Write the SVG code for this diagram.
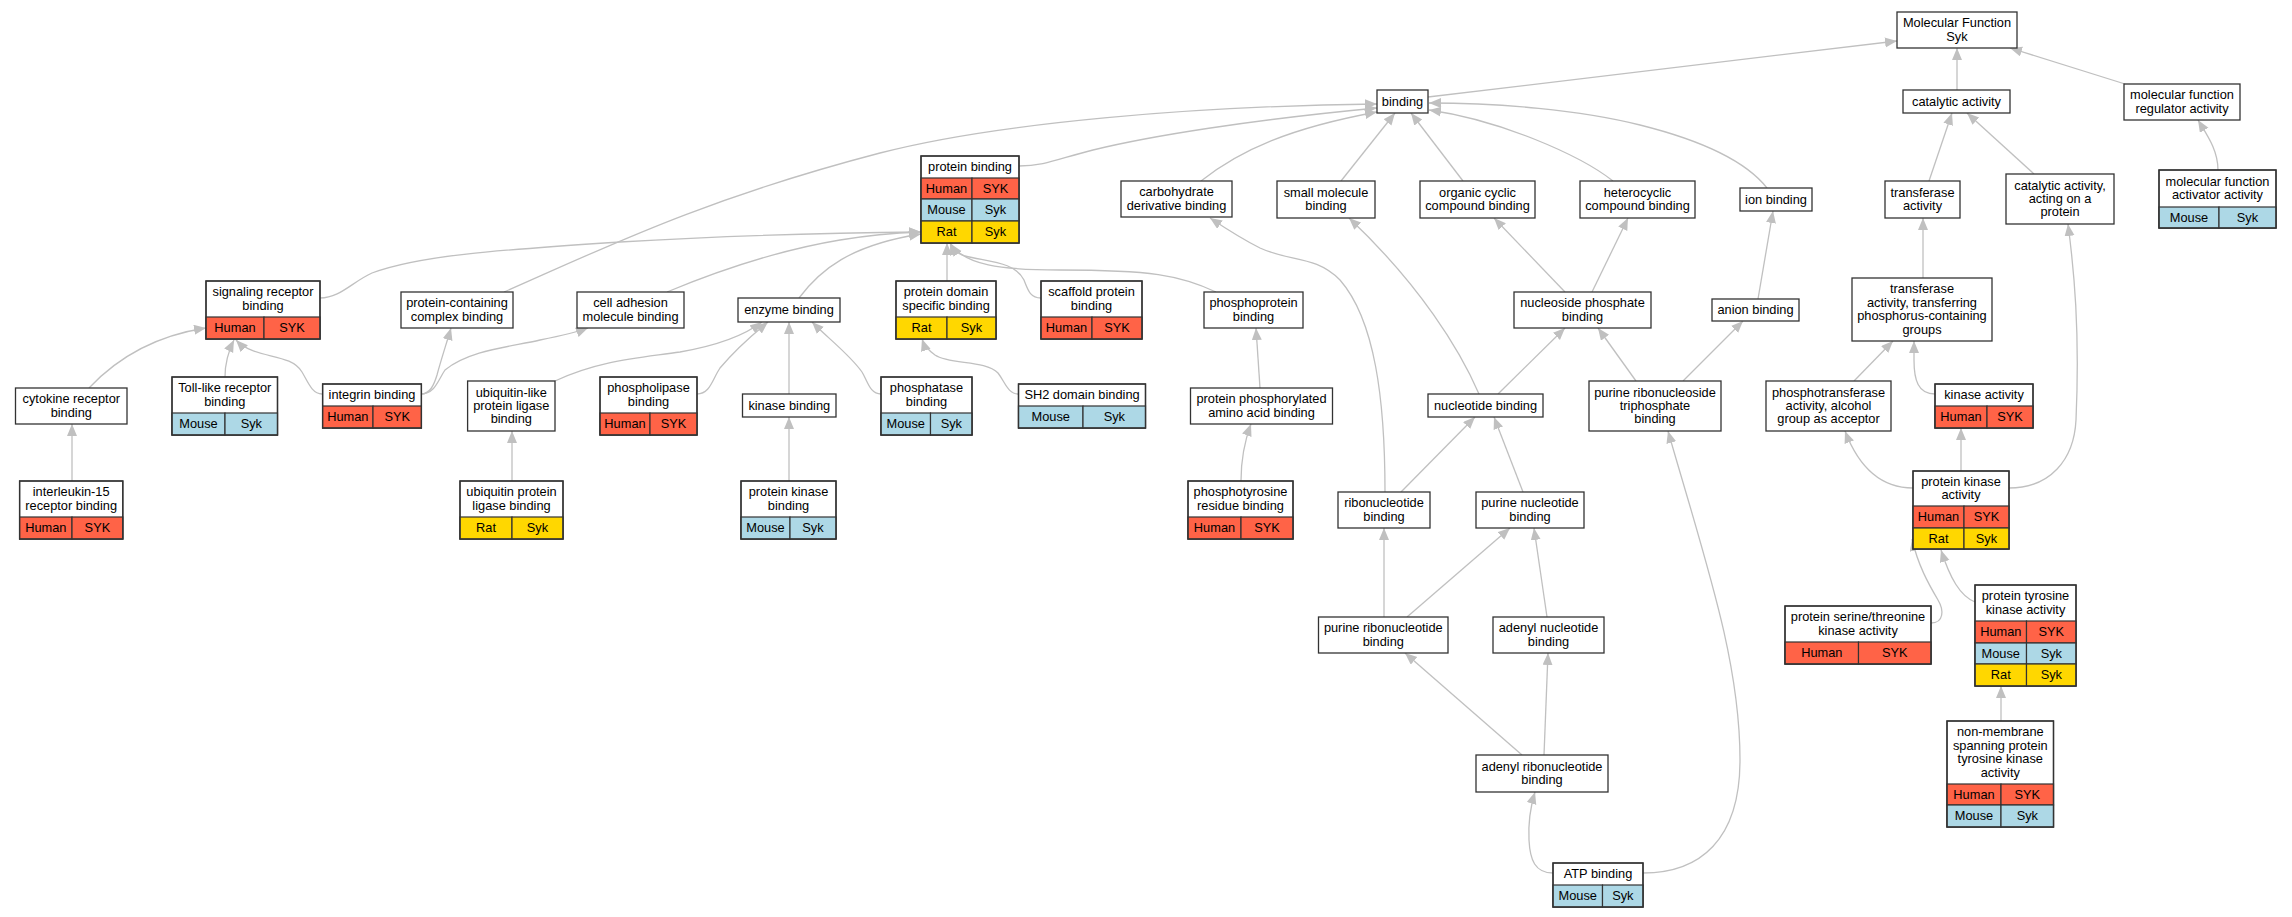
<svg xmlns="http://www.w3.org/2000/svg" width="2292" height="917" viewBox="0 0 2292 917">
<style>
.b{fill:#fff;stroke:#333;stroke-width:1.3}
.o{fill:none;stroke:#333;stroke-width:1.3}
.hu{fill:#ff6347;stroke:#333;stroke-width:1.2}
.mo{fill:#add8e6;stroke:#333;stroke-width:1.2}
.ra{fill:#ffd700;stroke:#333;stroke-width:1.2}
text{font-family:"Liberation Sans",Arial,sans-serif;font-size:12.8px;text-anchor:middle;fill:#000}
.e{fill:none;stroke:#c0c0c0;stroke-width:1.3;marker-end:url(#ah)}
</style>
<defs>
<marker id="ah" markerUnits="userSpaceOnUse" markerWidth="13" markerHeight="11" refX="12" refY="5" orient="auto" viewBox="0 0 13 11"><path d="M0,0 L12,5 L0,10 z" fill="#c0c0c0"/></marker>
</defs>
<rect width="2292" height="917" fill="#fff"/>
<g id="edges">
<path class="e" d="M1428,97 L1897,41"/>
<path class="e" d="M1957,90 L1957,48"/>
<path class="e" d="M2125,84 L2010,48"/>
<path class="e" d="M1929,181 L1952,113"/>
<path class="e" d="M2034,174 L1967,113"/>
<path class="e" d="M2218,170 C2218,150 2207,135 2198,120"/>
<path class="e" d="M1923,278 L1923,218"/>
<path class="e" d="M1854,381 L1893,341"/>
<path class="e" d="M1935,394 C1918,394 1914,380 1914,360 L1914,341"/>
<path class="e" d="M1961,471 L1961,428"/>
<path class="e" d="M1913,488 C1880,488 1858,465 1845,431"/>
<path class="e" d="M2009,488 C2050,488 2074,460 2076,420 C2080,330 2074,270 2068,224"/>
<path class="e" d="M1931,623 C1944,623 1944,610 1938,600 C1928,583 1918,565 1912,539"/>
<path class="e" d="M1975,602 C1960,596 1950,578 1941,550"/>
<path class="e" d="M2001,721 L2001,686"/>
<path class="e" d="M1019,166 C1045,166 1060,158 1093,150 C1150,136 1250,120 1377,108"/>
<path class="e" d="M504,292 C600,250 700,200 880,153 C1000,122 1200,106 1377,104"/>
<path class="e" d="M1201,181 C1240,150 1290,128 1377,112"/>
<path class="e" d="M1341,181 L1395,113"/>
<path class="e" d="M1463,181 L1411,113"/>
<path class="e" d="M1613,181 C1580,155 1500,120 1429,110"/>
<path class="e" d="M1767,188 C1745,160 1700,140 1640,125 C1580,110 1500,103 1429,103"/>
<path class="e" d="M320,298 C340,298 352,282 372,273 C420,255 500,250 620,242 C720,236 820,233 921,232"/>
<path class="e" d="M667,292 C720,270 780,250 840,240 C870,235 895,233 921,232"/>
<path class="e" d="M799,298 C820,270 850,245 921,234"/>
<path class="e" d="M421,394 C435,394 438,380 445,370 C470,350 510,347 540,340 C560,336 575,333 588,328"/>
<path class="e" d="M421,394 C430,394 434,385 437,375 C441,360 446,345 451,328"/>
<path class="e" d="M322,394 C312,394 308,382 302,372 C290,352 255,360 236,340"/>
<path class="e" d="M225,377 C225,365 228,352 234,340"/>
<path class="e" d="M89,388 C120,355 160,335 206,328"/>
<path class="e" d="M72,481 L72,424"/>
<path class="e" d="M512,481 L512,431"/>
<path class="e" d="M555,381 C600,360 640,358 680,352 C720,345 745,335 762,322"/>
<path class="e" d="M697,394 C710,394 712,380 720,368 C735,350 752,335 768,322"/>
<path class="e" d="M789,394 L789,322"/>
<path class="e" d="M881,394 C870,394 868,382 862,372 C850,355 830,340 812,322"/>
<path class="e" d="M789,481 L789,417"/>
<path class="e" d="M947,281 L947,243"/>
<path class="e" d="M1041,298 C1030,298 1028,290 1024,280 C1015,262 990,262 965,256 C958,254 953,250 950,243"/>
<path class="e" d="M1216,292 C1180,275 1150,270 1060,270 C1000,270 965,265 951,244"/>
<path class="e" d="M1018,394 C1008,394 1005,382 998,373 C985,360 950,365 935,355 C928,350 924,345 922,339"/>
<path class="e" d="M1260,388 L1256,328"/>
<path class="e" d="M1241,481 C1241,460 1245,440 1251,424"/>
<path class="e" d="M1565,292 L1494,218"/>
<path class="e" d="M1592,292 L1628,218"/>
<path class="e" d="M1498,394 L1565,328"/>
<path class="e" d="M1479,394 C1460,350 1420,285 1349,218"/>
<path class="e" d="M1636,381 L1598,328"/>
<path class="e" d="M1683,381 L1743,321"/>
<path class="e" d="M1758,299 L1773,211"/>
<path class="e" d="M1401,492 L1475,417"/>
<path class="e" d="M1385,492 C1385,400 1375,320 1340,280 C1315,255 1290,262 1260,248 C1240,238 1225,228 1210,218"/>
<path class="e" d="M1523,492 L1494,417"/>
<path class="e" d="M1384,617 L1384,528"/>
<path class="e" d="M1407,617 L1510,528"/>
<path class="e" d="M1547,617 L1534,528"/>
<path class="e" d="M1522,755 L1405,653"/>
<path class="e" d="M1544,755 L1548,653"/>
<path class="e" d="M1553,873 C1535,873 1530,860 1529,840 C1528,820 1531,805 1535,792"/>
<path class="e" d="M1643,873 C1700,873 1740,840 1740,760 C1740,660 1705,560 1668,431"/>
</g>
<g id="n_mf"><rect class="b" x="1897" y="12" width="120" height="36"/><text x="1957" y="27.3">Molecular Function</text><text x="1957" y="40.7">Syk</text></g>
<g id="n_binding"><rect class="b" x="1377" y="90" width="51" height="23"/><text x="1402.5" y="105.5">binding</text></g>
<g id="n_catalytic"><rect class="b" x="1903" y="90" width="107" height="23"/><text x="1956.5" y="105.5">catalytic activity</text></g>
<g id="n_mfreg"><rect class="b" x="2124" y="84" width="116" height="36"/><text x="2182" y="99.3">molecular function</text><text x="2182" y="112.7">regulator activity</text></g>
<g id="n_proteinbinding"><rect class="b" x="921" y="156" width="98" height="87"/><text x="970" y="171">protein binding</text>
<rect class="hu" x="921" y="178" width="51" height="21"/><rect class="hu" x="972" y="178" width="47" height="21"/><text x="946.5" y="192.5">Human</text><text x="995.5" y="192.5">SYK</text>
<rect class="mo" x="921" y="199" width="51" height="22"/><rect class="mo" x="972" y="199" width="47" height="22"/><text x="946.5" y="214">Mouse</text><text x="995.5" y="214">Syk</text>
<rect class="ra" x="921" y="221" width="51" height="22"/><rect class="ra" x="972" y="221" width="47" height="22"/><text x="946.5" y="236">Rat</text><text x="995.5" y="236">Syk</text>
<rect class="o" x="921" y="156" width="98" height="87"/></g>
<g id="n_carbohydrate"><rect class="b" x="1121" y="181" width="111" height="36"/><text x="1176.5" y="196.3">carbohydrate</text><text x="1176.5" y="209.7">derivative binding</text></g>
<g id="n_smallmol"><rect class="b" x="1277" y="181" width="98" height="37"/><text x="1326" y="196.8">small molecule</text><text x="1326" y="210.2">binding</text></g>
<g id="n_organic"><rect class="b" x="1420" y="181" width="115" height="37"/><text x="1477.5" y="196.8">organic cyclic</text><text x="1477.5" y="210.2">compound binding</text></g>
<g id="n_heterocyclic"><rect class="b" x="1580" y="181" width="115" height="37"/><text x="1637.5" y="196.8">heterocyclic</text><text x="1637.5" y="210.2">compound binding</text></g>
<g id="n_ion"><rect class="b" x="1740" y="188" width="72" height="23"/><text x="1776" y="203.5">ion binding</text></g>
<g id="n_transferase"><rect class="b" x="1885" y="181" width="75" height="37"/><text x="1922.5" y="196.8">transferase</text><text x="1922.5" y="210.2">activity</text></g>
<g id="n_acting"><rect class="b" x="2006" y="174" width="108" height="50"/><text x="2060" y="189.6">catalytic activity,</text><text x="2060" y="203">acting on a</text><text x="2060" y="216.4">protein</text></g>
<g id="n_activator"><rect class="b" x="2159" y="170" width="117" height="58"/><text x="2217.5" y="185.8">molecular function</text><text x="2217.5" y="199.2">activator activity</text>
<rect class="mo" x="2159" y="207" width="60" height="21"/><rect class="mo" x="2219" y="207" width="57" height="21"/><text x="2189" y="221.5">Mouse</text><text x="2247.5" y="221.5">Syk</text>
<rect class="o" x="2159" y="170" width="117" height="58"/></g>
<g id="n_signaling"><rect class="b" x="206" y="281" width="114" height="58"/><text x="263" y="296.3">signaling receptor</text><text x="263" y="309.7">binding</text>
<rect class="hu" x="206" y="317" width="58" height="22"/><rect class="hu" x="264" y="317" width="56" height="22"/><text x="235" y="332">Human</text><text x="292" y="332">SYK</text>
<rect class="o" x="206" y="281" width="114" height="58"/></g>
<g id="n_complex"><rect class="b" x="401" y="292" width="112" height="36"/><text x="457" y="307.3">protein-containing</text><text x="457" y="320.7">complex binding</text></g>
<g id="n_celladhesion"><rect class="b" x="577" y="292" width="107" height="36"/><text x="630.5" y="307.3">cell adhesion</text><text x="630.5" y="320.7">molecule binding</text></g>
<g id="n_enzyme"><rect class="b" x="738" y="298" width="102" height="24"/><text x="789" y="314">enzyme binding</text></g>
<g id="n_domain"><rect class="b" x="896" y="281" width="100" height="58"/><text x="946" y="296.3">protein domain</text><text x="946" y="309.7">specific binding</text>
<rect class="ra" x="896" y="317" width="51" height="22"/><rect class="ra" x="947" y="317" width="49" height="22"/><text x="921.5" y="332">Rat</text><text x="971.5" y="332">Syk</text>
<rect class="o" x="896" y="281" width="100" height="58"/></g>
<g id="n_scaffold"><rect class="b" x="1041" y="281" width="101" height="58"/><text x="1091.5" y="296.3">scaffold protein</text><text x="1091.5" y="309.7">binding</text>
<rect class="hu" x="1041" y="317" width="51" height="22"/><rect class="hu" x="1092" y="317" width="50" height="22"/><text x="1066.5" y="332">Human</text><text x="1117" y="332">SYK</text>
<rect class="o" x="1041" y="281" width="101" height="58"/></g>
<g id="n_phosphoprotein"><rect class="b" x="1204" y="292" width="99" height="36"/><text x="1253.5" y="307.3">phosphoprotein</text><text x="1253.5" y="320.7">binding</text></g>
<g id="n_nucleoside"><rect class="b" x="1514" y="292" width="137" height="36"/><text x="1582.5" y="307.3">nucleoside phosphate</text><text x="1582.5" y="320.7">binding</text></g>
<g id="n_anion"><rect class="b" x="1712" y="299" width="87" height="22"/><text x="1755.5" y="314">anion binding</text></g>
<g id="n_transferring"><rect class="b" x="1852" y="278" width="140" height="63"/><text x="1922" y="293.4">transferase</text><text x="1922" y="306.8">activity, transferring</text><text x="1922" y="320.2">phosphorus-containing</text><text x="1922" y="333.6">groups</text></g>
<g id="n_cytokine"><rect class="b" x="15.5" y="388" width="111.5" height="36"/><text x="71.3" y="403.3">cytokine receptor</text><text x="71.3" y="416.7">binding</text></g>
<g id="n_toll"><rect class="b" x="172" y="377" width="105.5" height="58"/><text x="224.8" y="392.3">Toll-like receptor</text><text x="224.8" y="405.7">binding</text>
<rect class="mo" x="172" y="413" width="53" height="22"/><rect class="mo" x="225" y="413" width="52.5" height="22"/><text x="198.5" y="428">Mouse</text><text x="251.3" y="428">Syk</text>
<rect class="o" x="172" y="377" width="105.5" height="58"/></g>
<g id="n_integrin"><rect class="b" x="322.6" y="384" width="98.8" height="44"/><text x="372" y="399">integrin binding</text>
<rect class="hu" x="322.6" y="406" width="50.4" height="22"/><rect class="hu" x="373" y="406" width="48.4" height="22"/><text x="347.8" y="421">Human</text><text x="397.2" y="421">SYK</text>
<rect class="o" x="322.6" y="384" width="98.8" height="44"/></g>
<g id="n_ubiqlike"><rect class="b" x="467.6" y="381" width="87.4" height="50"/><text x="511.3" y="396.6">ubiquitin-like</text><text x="511.3" y="410">protein ligase</text><text x="511.3" y="423.4">binding</text></g>
<g id="n_phospholipase"><rect class="b" x="600" y="377" width="97" height="58"/><text x="648.5" y="392.3">phospholipase</text><text x="648.5" y="405.7">binding</text>
<rect class="hu" x="600" y="413" width="50" height="22"/><rect class="hu" x="650" y="413" width="47" height="22"/><text x="625" y="428">Human</text><text x="673.5" y="428">SYK</text>
<rect class="o" x="600" y="377" width="97" height="58"/></g>
<g id="n_kinasebinding"><rect class="b" x="742.5" y="394" width="93.5" height="23"/><text x="789.3" y="409.5">kinase binding</text></g>
<g id="n_phosphatase"><rect class="b" x="881" y="377" width="91" height="58"/><text x="926.5" y="392.3">phosphatase</text><text x="926.5" y="405.7">binding</text>
<rect class="mo" x="881" y="413" width="49.5" height="22"/><rect class="mo" x="930.5" y="413" width="41.5" height="22"/><text x="905.8" y="428">Mouse</text><text x="951.3" y="428">Syk</text>
<rect class="o" x="881" y="377" width="91" height="58"/></g>
<g id="n_sh2"><rect class="b" x="1018.5" y="384" width="127" height="44"/><text x="1082" y="399">SH2 domain binding</text>
<rect class="mo" x="1018.5" y="406" width="64.5" height="22"/><rect class="mo" x="1083" y="406" width="62.5" height="22"/><text x="1050.8" y="421">Mouse</text><text x="1114.3" y="421">Syk</text>
<rect class="o" x="1018.5" y="384" width="127" height="44"/></g>
<g id="n_phosphorylated"><rect class="b" x="1190.5" y="388" width="142" height="36"/><text x="1261.5" y="403.3">protein phosphorylated</text><text x="1261.5" y="416.7">amino acid binding</text></g>
<g id="n_nucleotide"><rect class="b" x="1428" y="394" width="115" height="23"/><text x="1485.5" y="409.5">nucleotide binding</text></g>
<g id="n_triphosphate"><rect class="b" x="1589" y="381" width="132" height="50"/><text x="1655" y="396.6">purine ribonucleoside</text><text x="1655" y="410">triphosphate</text><text x="1655" y="423.4">binding</text></g>
<g id="n_phosphotransferase"><rect class="b" x="1766" y="381" width="125" height="50"/><text x="1828.5" y="396.6">phosphotransferase</text><text x="1828.5" y="410">activity, alcohol</text><text x="1828.5" y="423.4">group as acceptor</text></g>
<g id="n_kinaseactivity"><rect class="b" x="1935" y="384" width="98" height="44"/><text x="1984" y="399">kinase activity</text>
<rect class="hu" x="1935" y="406" width="52" height="22"/><rect class="hu" x="1987" y="406" width="46" height="22"/><text x="1961" y="421">Human</text><text x="2010" y="421">SYK</text>
<rect class="o" x="1935" y="384" width="98" height="44"/></g>
<g id="n_il15"><rect class="b" x="19.6" y="481" width="103.2" height="58"/><text x="71.2" y="496.3">interleukin-15</text><text x="71.2" y="509.7">receptor binding</text>
<rect class="hu" x="19.6" y="517" width="52.4" height="22"/><rect class="hu" x="72" y="517" width="50.8" height="22"/><text x="45.8" y="532">Human</text><text x="97.4" y="532">SYK</text>
<rect class="o" x="19.6" y="481" width="103.2" height="58"/></g>
<g id="n_ubiqligase"><rect class="b" x="460" y="481" width="103" height="58"/><text x="511.5" y="496.3">ubiquitin protein</text><text x="511.5" y="509.7">ligase binding</text>
<rect class="ra" x="460" y="517" width="52" height="22"/><rect class="ra" x="512" y="517" width="51" height="22"/><text x="486" y="532">Rat</text><text x="537.5" y="532">Syk</text>
<rect class="o" x="460" y="481" width="103" height="58"/></g>
<g id="n_pkbinding"><rect class="b" x="741" y="481" width="95" height="58"/><text x="788.5" y="496.3">protein kinase</text><text x="788.5" y="509.7">binding</text>
<rect class="mo" x="741" y="517" width="49" height="22"/><rect class="mo" x="790" y="517" width="46" height="22"/><text x="765.5" y="532">Mouse</text><text x="813" y="532">Syk</text>
<rect class="o" x="741" y="481" width="95" height="58"/></g>
<g id="n_phosphotyrosine"><rect class="b" x="1188" y="481" width="105" height="58"/><text x="1240.5" y="496.3">phosphotyrosine</text><text x="1240.5" y="509.7">residue binding</text>
<rect class="hu" x="1188" y="517" width="53" height="22"/><rect class="hu" x="1241" y="517" width="52" height="22"/><text x="1214.5" y="532">Human</text><text x="1267" y="532">SYK</text>
<rect class="o" x="1188" y="481" width="105" height="58"/></g>
<g id="n_pkactivity"><rect class="b" x="1913" y="471" width="96" height="78"/><text x="1961" y="485.8">protein kinase</text><text x="1961" y="499.2">activity</text>
<rect class="hu" x="1913" y="506" width="51" height="22"/><rect class="hu" x="1964" y="506" width="45" height="22"/><text x="1938.5" y="521">Human</text><text x="1986.5" y="521">SYK</text>
<rect class="ra" x="1913" y="528" width="51" height="21"/><rect class="ra" x="1964" y="528" width="45" height="21"/><text x="1938.5" y="542.5">Rat</text><text x="1986.5" y="542.5">Syk</text>
<rect class="o" x="1913" y="471" width="96" height="78"/></g>
<g id="n_ribonucleotide"><rect class="b" x="1338" y="492" width="92" height="36"/><text x="1384" y="507.3">ribonucleotide</text><text x="1384" y="520.7">binding</text></g>
<g id="n_purinenucleotide"><rect class="b" x="1476" y="492" width="108" height="36"/><text x="1530" y="507.3">purine nucleotide</text><text x="1530" y="520.7">binding</text></g>
<g id="n_purineribonucleotide"><rect class="b" x="1318.5" y="617" width="129.5" height="36"/><text x="1383.3" y="632.3">purine ribonucleotide</text><text x="1383.3" y="645.7">binding</text></g>
<g id="n_adenylnucleotide"><rect class="b" x="1493" y="617" width="111" height="36"/><text x="1548.5" y="632.3">adenyl nucleotide</text><text x="1548.5" y="645.7">binding</text></g>
<g id="n_serthr"><rect class="b" x="1785" y="606" width="146" height="58"/><text x="1858" y="621.3">protein serine/threonine</text><text x="1858" y="634.7">kinase activity</text>
<rect class="hu" x="1785" y="642" width="73.5" height="22"/><rect class="hu" x="1858.5" y="642" width="72.5" height="22"/><text x="1821.8" y="657">Human</text><text x="1894.8" y="657">SYK</text>
<rect class="o" x="1785" y="606" width="146" height="58"/></g>
<g id="n_tyrosine"><rect class="b" x="1975" y="585" width="101" height="101"/><text x="2025.5" y="600.3">protein tyrosine</text><text x="2025.5" y="613.7">kinase activity</text>
<rect class="hu" x="1975" y="621" width="51.5" height="22"/><rect class="hu" x="2026.5" y="621" width="49.5" height="22"/><text x="2000.8" y="636">Human</text><text x="2051.3" y="636">SYK</text>
<rect class="mo" x="1975" y="643" width="51.5" height="21"/><rect class="mo" x="2026.5" y="643" width="49.5" height="21"/><text x="2000.8" y="657.5">Mouse</text><text x="2051.3" y="657.5">Syk</text>
<rect class="ra" x="1975" y="664" width="51.5" height="22"/><rect class="ra" x="2026.5" y="664" width="49.5" height="22"/><text x="2000.8" y="679">Rat</text><text x="2051.3" y="679">Syk</text>
<rect class="o" x="1975" y="585" width="101" height="101"/></g>
<g id="n_adenylribo"><rect class="b" x="1476" y="755" width="132" height="37"/><text x="1542" y="770.8">adenyl ribonucleotide</text><text x="1542" y="784.2">binding</text></g>
<g id="n_nonmembrane"><rect class="b" x="1947" y="721" width="106.5" height="106"/><text x="2000.3" y="736.4">non-membrane</text><text x="2000.3" y="749.8">spanning protein</text><text x="2000.3" y="763.2">tyrosine kinase</text><text x="2000.3" y="776.6">activity</text>
<rect class="hu" x="1947" y="784" width="54" height="21"/><rect class="hu" x="2001" y="784" width="52.5" height="21"/><text x="1974" y="798.5">Human</text><text x="2027.3" y="798.5">SYK</text>
<rect class="mo" x="1947" y="805" width="54" height="22"/><rect class="mo" x="2001" y="805" width="52.5" height="22"/><text x="1974" y="820">Mouse</text><text x="2027.3" y="820">Syk</text>
<rect class="o" x="1947" y="721" width="106.5" height="106"/></g>
<g id="n_atp"><rect class="b" x="1553" y="863" width="90" height="44"/><text x="1598" y="878">ATP binding</text>
<rect class="mo" x="1553" y="885" width="49.5" height="22"/><rect class="mo" x="1602.5" y="885" width="40.5" height="22"/><text x="1577.8" y="900">Mouse</text><text x="1622.8" y="900">Syk</text>
<rect class="o" x="1553" y="863" width="90" height="44"/></g>
</svg>
